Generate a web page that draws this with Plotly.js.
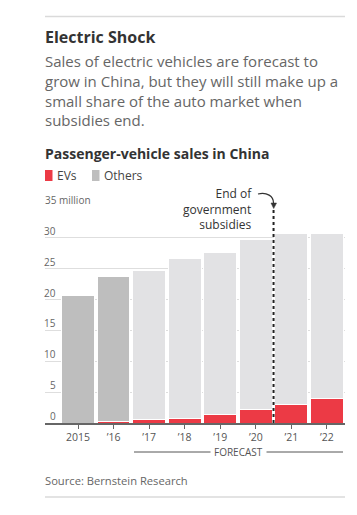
<!DOCTYPE html>
<html>
<head>
<meta charset="utf-8">
<script src="https://cdn.plot.ly/plotly-3.0.1.min.js"></script>
<style>
  html, body { margin: 0; padding: 0; background: #fff; }
  #chart { width: 357px; height: 515px; }
</style>
</head>
<body>
<div id="chart"></div>
<script>
// ---- data ----
const years = ['2015', '\u201916', '\u201917', '\u201918', '\u201919', '\u201920', '\u201921', '\u201922'];
const evs = [0, 0.3, 0.5, 0.75, 1.4, 2.15, 3.0, 3.9];
const others = [20.7, 23.4, 24.2, 25.95, 26.3, 27.55, 27.7, 26.8];
const yTicks = [0, 5, 10, 15, 20, 25, 30, 35];
const yTickText = ['0', '5', '10', '15', '20', '25', '30', '35 million'];
const forecastStart = 2;      // index of first forecast year
const subsidyEnd = 5.5;       // between '20 and '21

// ---- style ----
const FONT = '"Open Sans", Lato, sans-serif';
const RED = '#ec3a45';
const DARK_GRAY = '#bebebe';
const LIGHT_GRAY = '#e2e2e4';

// plot box in pixels
const L = 45, R = 345, T = 207, B = 423;
const W = R - L, H = B - T;
const px = x => (x - L) / W;
const py = y => (B - y) / H;

const othersColors = years.map((_, i) => i < forecastStart ? DARK_GRAY : LIGHT_GRAY);

const traces = [
  {
    type: 'bar', name: 'EVs', x: years, y: evs,
    marker: { color: RED, line: { color: '#fff', width: 1 } },
    hoverinfo: 'x+y'
  },
  {
    type: 'bar', name: 'Others', x: years, y: others,
    marker: { color: othersColors, line: { color: '#fff', width: 1 } },
    hoverinfo: 'x+y'
  }
];

const annotations = [];
function txt(text, x, y, opts) {
  annotations.push(Object.assign({
    xref: 'paper', yref: 'paper', x: px(x), y: py(y),
    text: text, showarrow: false, xanchor: 'left', yanchor: 'middle',
    font: { family: FONT, size: 12, color: '#333' }
  }, opts || {}));
}

// headline + intro
txt('<b>Electric Shock</b>', 43, 36.5, { font: { family: FONT, size: 16, color: '#333' } });
const intro = [
  'Sales of electric vehicles are forecast to',
  'grow in China, but they will still make up a',
  'small share of the auto market when',
  'subsidies end.'
];
intro.forEach((line, i) => txt(line, 43, 61 + i * 19.8, { font: { family: FONT, size: 15, color: '#666' } }));

// chart title
txt('<b>Passenger-vehicle sales in China</b>', 43, 153.5, { font: { family: FONT, size: 14, color: '#333' } });

// legend text
txt('EVs', 54.5, 175.5, { font: { family: FONT, size: 12, color: '#444' } });
txt('Others', 101.5, 175.5, { font: { family: FONT, size: 12, color: '#444' } });

// y tick labels (above gridlines)
yTicks.forEach((v, i) => {
  const yPix = B - v / 35 * H - 7;
  if (i === yTicks.length - 1) {
    txt(yTickText[i], 43, yPix, { font: { family: FONT, size: 10, color: '#666' } });
  } else {
    txt(yTickText[i], 58, yPix, { xanchor: 'right', font: { family: FONT, size: 10, color: '#666' } });
  }
});

// subsidy note
txt('End of<br>government<br>subsidies', 255, 209, {
  xanchor: 'right', align: 'right', bgcolor: '#fff', borderpad: 2,
  font: { family: FONT, size: 12, color: '#333' }
});

// forecast label
txt('FORECAST', 239, 452, { xanchor: 'center', bgcolor: '#fff', borderpad: 3,
  font: { family: FONT, size: 10, color: '#555' } });

// source
txt('Source: Bernstein Research', 43, 480, { font: { family: FONT, size: 11.2, color: '#666' } });

const shapes = [
  // top and bottom rules
  { type: 'line', xref: 'paper', yref: 'paper', x0: px(45), x1: px(345), y0: py(16.5), y1: py(16.5),
    line: { color: '#dadada', width: 1.5 } },
  { type: 'line', xref: 'paper', yref: 'paper', x0: px(45), x1: px(345), y0: py(497), y1: py(497),
    line: { color: '#dadada', width: 1.5 } },
  // legend swatches
  { type: 'rect', xref: 'paper', yref: 'paper', x0: px(45), x1: px(52.5), y0: py(170), y1: py(181),
    fillcolor: RED, line: { width: 0 } },
  { type: 'rect', xref: 'paper', yref: 'paper', x0: px(92), x1: px(99.5), y0: py(170), y1: py(181),
    fillcolor: DARK_GRAY, line: { width: 0 } },
  // forecast line
  { type: 'line', xref: 'paper', yref: 'paper', x0: px(134), x1: px(343), y0: py(452), y1: py(452),
    line: { color: '#555', width: 1 }, layer: 'below' },
  // subsidy end dotted line
  { type: 'line', xref: 'x', yref: 'y', x0: subsidyEnd, x1: subsidyEnd, y0: 0, y1: 35,
    line: { color: '#222', width: 2, dash: 'dot' } },
  // curved arrow
  { type: 'path', xref: 'paper', yref: 'paper',
    path: `M ${px(258)},${py(194)} C ${px(267)},${py(192)} ${px(273.5)},${py(196)} ${px(273.5)},${py(203)}`,
    line: { color: '#333', width: 1.2 } },
  { type: 'path', xref: 'paper', yref: 'paper',
    path: `M ${px(271)},${py(203)} L ${px(276.5)},${py(203)} L ${px(273.7)},${py(208.5)} Z`,
    fillcolor: '#333', line: { color: '#333', width: 0.5 } }
];

const layout = {
  width: 357, height: 515,
  margin: { l: L, r: 357 - R, t: T, b: 515 - B, pad: 0 },
  paper_bgcolor: '#fff', plot_bgcolor: '#fff',
  barmode: 'stack', bargap: 0.08,
  showlegend: false,
  font: { family: FONT, color: '#555' },
  xaxis: {
    type: 'category', range: [-0.93, 7.51], fixedrange: true,
    showline: true, linecolor: '#666', linewidth: 1.5,
    ticks: 'outside', ticklen: 4, tickcolor: '#666', tickwidth: 1,
    tickfont: { family: FONT, size: 10.5, color: '#555' },
    showgrid: false, zeroline: false
  },
  yaxis: {
    range: [0, 35], tickvals: yTicks, showticklabels: false,
    showgrid: true, gridcolor: '#dedede', gridwidth: 1,
    zeroline: false, showline: false, ticks: '', fixedrange: true
  },
  annotations: annotations,
  shapes: shapes
};

Plotly.newPlot('chart', traces, layout, { displayModeBar: false, staticPlot: true });
</script>
</body>
</html>
